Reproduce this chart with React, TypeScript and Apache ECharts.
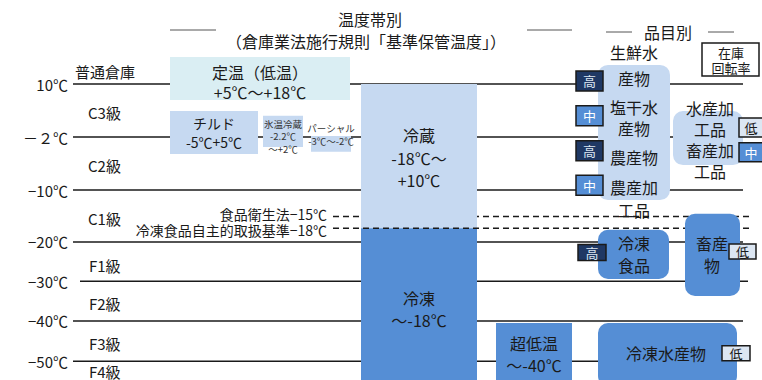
import React, { useEffect, useRef } from "react";
import * as echarts from "echarts";

const FONT = '"Noto Sans CJK JP", "Noto Sans", sans-serif';

// ---- temperature axis (band lines) ----
const tempTickLabels = ["10℃", "－２℃", "−10℃", "−20℃", "−30℃", "−40℃", "−50℃"];
const tempTickLevels = [0, 1, 2, 2.98, 3.72, 4.47, 5.23];

// ---- warehouse classes (倉庫業法) ----
const classLabels = ["普通倉庫", "C3級", "C2級", "C1級", "F1級", "F2級", "F3級", "F4級"];
const classLevels = [-0.23, 0.53, 1.53, 2.53, 3.42, 4.14, 4.9, 5.42];

// ---- threshold (dashed) lines ----
const thresholdLabels = ["食品衛生法−15℃", "冷凍食品自主的取扱基準−18℃"];
const thresholdLevels = [2.5, 2.72];

// ---- temperature zones ----
const zoneNames = ["定温（低温）", "チルド", "氷温冷蔵", "パーシャル", "冷蔵", "冷凍", "超低温"];
const zoneRanges = ["+5℃〜+18℃", "-5℃+5℃", "-2.2℃\n〜+2℃", "-3℃〜-2℃", "-18℃〜\n+10℃", "〜-18℃", "〜-40℃"];

// ---- products & inventory turnover ----
const productNames = ["生鮮水\n産物", "塩干水\n産物", "農産物", "農産加\n工品", "水産加\n工品", "畜産加\n工品", "冷凍\n食品", "畜産\n物", "冷凍水産物"];
const turnoverRates = ["高", "中", "高", "中", "低", "中", "高", "低", "低"];

// ================= layout & style (not data) =================
const LIGHT = "#c6d9f1";
const CYAN = "#daeef3";
const DARK = "#558ed5";
const NAVY = "#1f3864";
const INK = "#1a1a1a";

const lineSpans = [[73, 743], [73, 743], [73, 743], [73, 743], [80, 748], [73, 743], [73, 600]];
const classX = [75, 88, 88, 88, 89, 89, 89, 89];
const thresholdSpan = [333, 752];
const thresholdOnTop = [false, true];

const zoneLayout = [
  { x0: 170, x1: 350, t: -0.51, b: 0.3, c: CYAN, cx: 260, cy: -0.04, fs: 16, lh: 20, col: INK },
  { x0: 170, x1: 258, t: 0.51, b: 1.32, c: LIGHT, cx: 214, cy: 0.915, fs: 14, lh: 19, col: INK },
  { x0: 263, x1: 303, t: 0.6, b: 1.19, c: LIGHT, cx: 283, cy: 0.99, fs: 9.5, lh: 12.5, col: "#333" },
  { x0: 311, x1: 351, t: 0.98, b: 1.28, c: LIGHT, cx: 331, cy: 0.95, fs: 9.5, lh: 13, col: "#333" },
  { x0: 361, x1: 477, t: 0, b: 2.72, c: LIGHT, cx: 419, cy: 1.39, fs: 16, lh: 22.5, col: INK },
  { x0: 361, x1: 477, t: 2.72, b: 5.7, c: DARK, cx: 419, cy: 4.25, fs: 16, lh: 22, col: INK },
  { x0: 496, x1: 572, t: 4.51, b: 5.7, c: DARK, cx: 534, cy: 5.09, fs: 16, lh: 22, col: INK },
];

const groupBoxes = [
  { x0: 598, x1: 670, t: -0.36, b: 2.19, c: LIGHT },
  { x0: 673, x1: 743, t: 0.51, b: 1.53, c: LIGHT },
  { x0: 598, x1: 669, t: 2.75, b: 3.68, c: DARK },
  { x0: 685, x1: 740, t: 2.45, b: 4.0, c: DARK },
  { x0: 598, x1: 737, t: 4.51, b: 5.7, c: DARK },
];

const productLayout = [
  { cx: 634, cy: -0.36, lh: 26 },
  { cx: 634, cy: 0.63, lh: 21 },
  { cx: 634, cy: 1.38, lh: 22 },
  { cx: 634, cy: 2.16, lh: 23 },
  { cx: 710, cy: 0.645, lh: 21 },
  { cx: 710, cy: 1.435, lh: 21 },
  { cx: 634, cy: 3.21, lh: 22 },
  { cx: 712, cy: 3.21, lh: 22 },
  { cx: 666, cy: 5.08, lh: 22 },
];

const badgeLayout = [
  { cx: 589.5, cy: -0.057, w: 27, h: 20 },
  { cx: 589.5, cy: 0.6, w: 27, h: 20 },
  { cx: 589.5, cy: 1.26, w: 27, h: 20 },
  { cx: 589.5, cy: 1.91, w: 27, h: 20 },
  { cx: 751, cy: 0.82, w: 24, h: 19 },
  { cx: 751, cy: 1.29, w: 24, h: 19 },
  { cx: 592, cy: 3.18, w: 28, h: 16 },
  { cx: 742.5, cy: 3.16, w: 27, h: 15 },
  { cx: 736, cy: 5.08, w: 28, h: 15 },
];

const rateStyle: Record<string, { fill: string; text: string }> = {
  高: { fill: NAVY, text: "#dce6f2" },
  中: { fill: DARK, text: "#ffffff" },
  低: { fill: "#dce6f2", text: INK },
};

function txt(x: number, y: number, text: string, fs: number, lh: number, fill: string, align = "center") {
  return {
    type: "text",
    x,
    y,
    silent: true,
    style: {
      text,
      fill,
      fontSize: fs,
      fontFamily: FONT,
      lineHeight: lh,
      align,
      verticalAlign: "middle",
      textAlign: align,
      textVerticalAlign: "middle",
    },
  };
}

// multi-line text drawn as separate single-line texts (centered block)
function txtLines(x: number, y: number, text: string, fs: number, lh: number, fill: string, align = "center") {
  const lines = text.split("\n");
  const n = lines.length;
  return {
    type: "group",
    children: lines.map((ln, k) => txt(x, y + (k - (n - 1) / 2) * lh, ln, fs, Math.min(lh, fs + 2), fill, align)),
  };
}

function rectBetween(api: any, x0: number, x1: number, t: number, b: number) {
  const p0 = api.coord([x0, t]);
  const p1 = api.coord([x1, b]);
  return { x: p0[0], y: p0[1], width: p1[0] - p0[0], height: p1[1] - p0[1] };
}

function buildOption() {
  const thresholdSeries = (onTop: boolean) => ({
    type: "custom",
    silent: true,
    data: thresholdLevels.map((l, i) => [thresholdSpan[0], l, i]),
    renderItem: (params: any, api: any) => {
      const i = params.dataIndex;
      if (thresholdOnTop[i] !== onTop) return null;
      const p0 = api.coord([thresholdSpan[0], thresholdLevels[i]]);
      const p1 = api.coord([thresholdSpan[1], thresholdLevels[i]]);
      return {
        type: "line",
        shape: { x1: p0[0], y1: p0[1], x2: p1[0], y2: p1[1] },
        style: { stroke: INK, lineWidth: 1.5, lineDash: [6, 4] },
      };
    },
  });

  return {
    animation: false,
    backgroundColor: "#ffffff",
    grid: { left: 70, right: 0, top: 0, bottom: 0 },
    xAxis: { type: "value", min: 70, max: 762, show: false },
    yAxis: {
      type: "value",
      inverse: true,
      min: -84 / 53,
      max: 296 / 53,
      axisLine: { show: false },
      axisTick: { show: false },
      splitLine: { show: false },
      axisLabel: {
        customValues: tempTickLevels,
        formatter: (v: number) => {
          const i = tempTickLevels.indexOf(v);
          return i >= 0 ? tempTickLabels[i] : "";
        },
        margin: 2,
        fontSize: 15,
        fontFamily: FONT,
        color: INK,
      },
    },
    graphic: [
      txt(370, 19, "温度帯別", 16, 18, INK),
      txt(366, 41, "（倉庫業法施行規則「基準保管温度」）", 16, 18, INK),
      { type: "line", shape: { x1: 170, y1: 30, x2: 216, y2: 30 }, style: { stroke: "#555", lineWidth: 1 } },
      { type: "line", shape: { x1: 527, y1: 30, x2: 572, y2: 30 }, style: { stroke: "#555", lineWidth: 1 } },
      txt(668, 32, "品目別", 16, 18, INK),
      { type: "line", shape: { x1: 606, y1: 32, x2: 632, y2: 32 }, style: { stroke: "#555", lineWidth: 1 } },
      { type: "line", shape: { x1: 708, y1: 32, x2: 734, y2: 32 }, style: { stroke: "#555", lineWidth: 1 } },
      { type: "rect", shape: { x: 702, y: 43, width: 57, height: 33 }, style: { fill: "#fff", stroke: INK, lineWidth: 1.5 } },
      txtLines(731, 59.5, "在庫\n回転率", 13, 15, INK),
    ],
    series: [
      // band lines
      {
        type: "custom",
        silent: true,
        data: tempTickLevels.map((l, i) => [lineSpans[i][0], l, lineSpans[i][1]]),
        renderItem: (params: any, api: any) => {
          const p0 = api.coord([api.value(0), api.value(1)]);
          const p1 = api.coord([api.value(2), api.value(1)]);
          return {
            type: "line",
            shape: { x1: p0[0], y1: p0[1], x2: p1[0], y2: p1[1] },
            style: { stroke: INK, lineWidth: 1.5 },
          };
        },
      },
      // class labels
      {
        type: "custom",
        silent: true,
        data: classLevels.map((l, i) => [classX[i], l]),
        renderItem: (params: any, api: any) => {
          const p = api.coord([api.value(0), api.value(1)]);
          return txt(p[0], p[1], classLabels[params.dataIndex], 15, 17, INK, "left");
        },
      },
      // threshold labels
      {
        type: "custom",
        silent: true,
        data: thresholdLevels.map((l) => [326, l]),
        renderItem: (params: any, api: any) => {
          const i = params.dataIndex;
          const p = api.coord([327, thresholdLevels[i] - 0.04 + 0.075 * i]);
          return txt(p[0], p[1], thresholdLabels[i], 14, 14, INK, "right");
        },
      },
      thresholdSeries(false),
      // zones
      {
        type: "custom",
        silent: true,
        data: zoneNames.map((n, i) => [zoneLayout[i].x0, zoneLayout[i].t]),
        renderItem: (params: any, api: any) => {
          const z = zoneLayout[params.dataIndex];
          const r = rectBetween(api, z.x0, z.x1, z.t, z.b);
          const c = api.coord([z.cx, z.cy]);
          return {
            type: "group",
            children: [
              { type: "rect", shape: r, style: { fill: z.c } },
              txtLines(c[0], c[1], zoneNames[params.dataIndex] + "\n" + zoneRanges[params.dataIndex], z.fs, z.lh, z.col),
            ],
          };
        },
      },
      thresholdSeries(true),
      // product group boxes
      {
        type: "custom",
        silent: true,
        data: groupBoxes.map((g) => [g.x0, g.t]),
        renderItem: (params: any, api: any) => {
          const g = groupBoxes[params.dataIndex];
          const r = rectBetween(api, g.x0, g.x1, g.t, g.b);
          return { type: "rect", shape: { ...r, r: 10 }, style: { fill: g.c } };
        },
      },
      // product names
      {
        type: "custom",
        silent: true,
        data: productNames.map((n, i) => [productLayout[i].cx, productLayout[i].cy]),
        renderItem: (params: any, api: any) => {
          const p = productLayout[params.dataIndex];
          const c = api.coord([p.cx, p.cy]);
          return txtLines(c[0], c[1], productNames[params.dataIndex], 16, p.lh, INK);
        },
      },
      // turnover badges
      {
        type: "custom",
        silent: true,
        data: turnoverRates.map((r, i) => [badgeLayout[i].cx, badgeLayout[i].cy]),
        renderItem: (params: any, api: any) => {
          const b = badgeLayout[params.dataIndex];
          const rate = turnoverRates[params.dataIndex];
          const s = rateStyle[rate];
          const c = api.coord([b.cx, b.cy]);
          return {
            type: "group",
            children: [
              {
                type: "rect",
                shape: { x: c[0] - b.w / 2, y: c[1] - b.h / 2, width: b.w, height: b.h },
                style: { fill: s.fill, stroke: INK, lineWidth: 1.5 },
              },
              txt(c[0], c[1], rate, 13, 14, s.text),
            ],
          };
        },
      },
    ],
  };
}

export default function App() {
  const ref = useRef<HTMLDivElement>(null);
  useEffect(() => {
    document.body.style.margin = "0";
    const chart = echarts.init(ref.current as HTMLDivElement, null, { renderer: "svg" });
    chart.setOption(buildOption() as any);
    return () => chart.dispose();
  }, []);
  return <div ref={ref} style={{ width: 762, height: 380, background: "#fff" }} />;
}
